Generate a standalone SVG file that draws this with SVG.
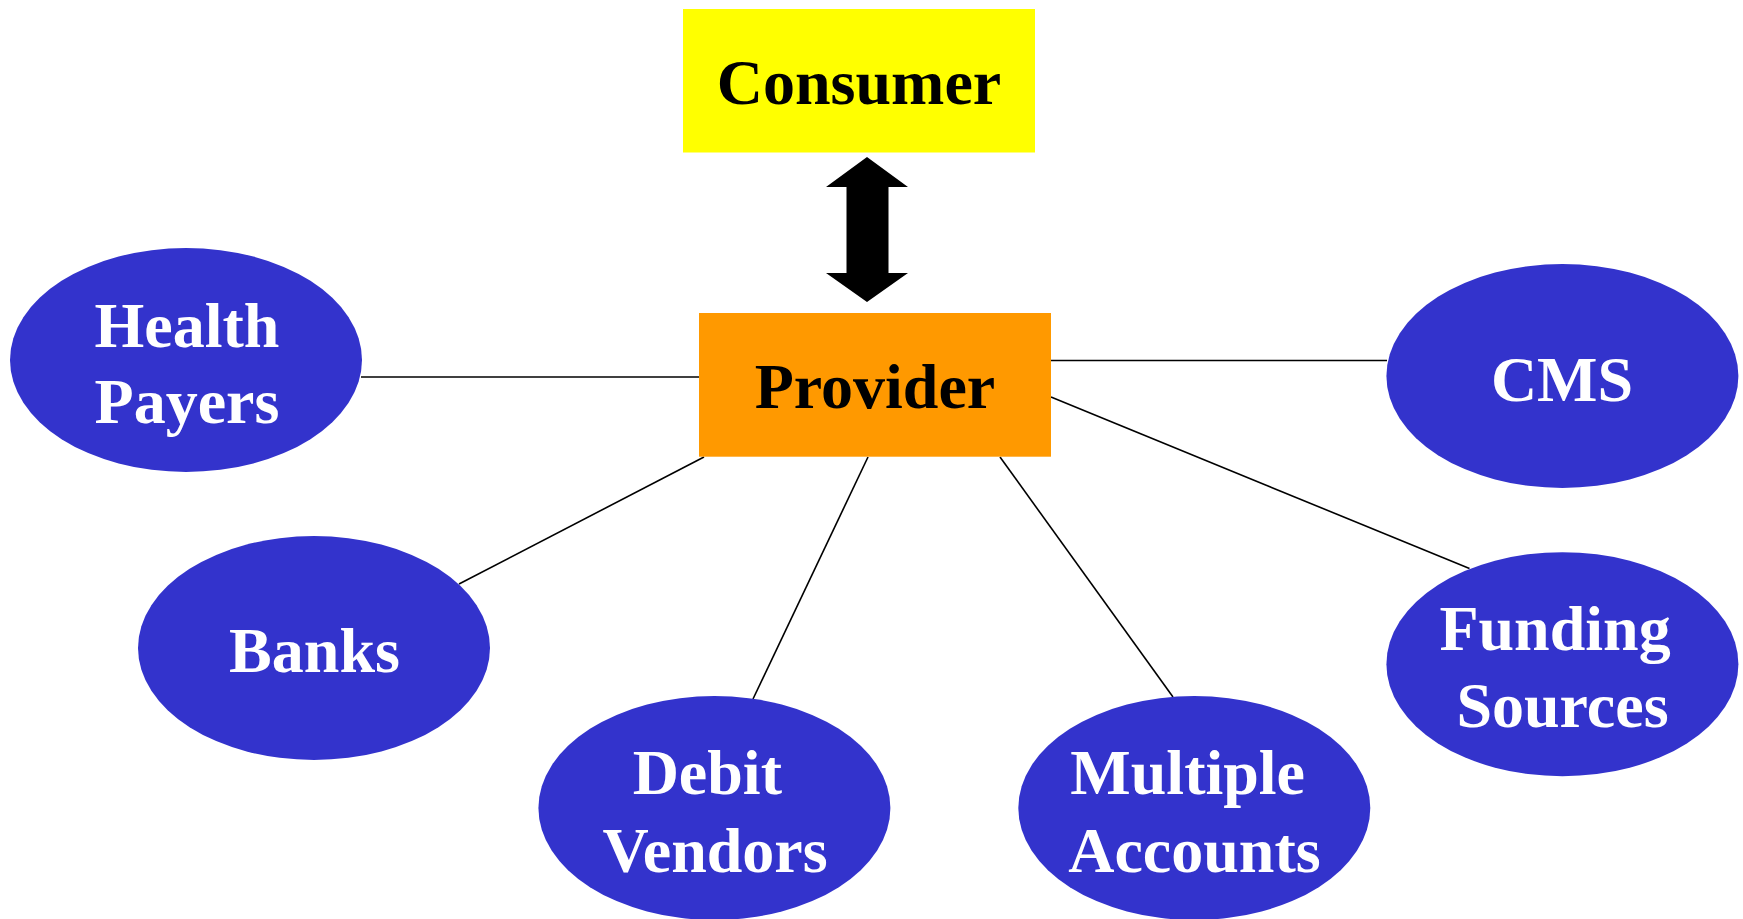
<svg xmlns="http://www.w3.org/2000/svg" width="1743" height="919" viewBox="0 0 1743 919">
<style>
.c{stroke:#000;stroke-width:1.6;fill:none}
.e{fill:#3333CC}
.t{font-family:"Liberation Serif","Times New Roman",serif;font-weight:bold;font-size:64px;text-anchor:middle}
.w{fill:#fff}
.k{fill:#000}
</style>
<rect width="1743" height="919" fill="#fff"/>
<g id="connectors">
<line class="c" x1="361" y1="377" x2="699" y2="377"/>
<line class="c" x1="459" y1="584" x2="704" y2="457"/>
<line class="c" x1="753" y1="699" x2="868" y2="457"/>
<line class="c" x1="1173" y1="697" x2="1000" y2="457"/>
<line class="c" x1="1469.5" y1="568.6" x2="1051" y2="397"/>
<line class="c" x1="1051" y1="360.5" x2="1387" y2="360.5"/>
<polygon fill="#000" points="867,157 908,187 888.5,187 888.5,273 908,273 867,302 826,273 846.5,273 846.5,187 826,187"/>
</g>
<g id="consumer">
<rect x="683" y="9" width="352" height="143.5" fill="#FFFF00"/>
<text class="t k" x="859" y="104">Consumer</text>
</g>
<g id="provider">
<rect x="699" y="313" width="352" height="143.7" fill="#FF9900"/>
<text class="t k" x="875" y="408">Provider</text>
</g>
<g id="health-payers">
<ellipse class="e" cx="186" cy="360" rx="176" ry="112"/>
<text class="t w" x="187" y="347">Health</text>
<text class="t w" x="187" y="422.5">Payers</text>
</g>
<g id="banks">
<ellipse class="e" cx="314" cy="648" rx="176" ry="112"/>
<text class="t w" x="314.5" y="672">Banks</text>
</g>
<g id="debit-vendors">
<ellipse class="e" cx="714.4" cy="808" rx="176" ry="112"/>
<text class="t w" x="707.3" y="794">Debit</text>
<text class="t w" x="715" y="871.7">Vendors</text>
</g>
<g id="multiple-accounts">
<ellipse class="e" cx="1194.3" cy="808" rx="176" ry="112"/>
<text class="t w" x="1187.7" y="794">Multiple</text>
<text class="t w" x="1194.4" y="871.7">Accounts</text>
</g>
<g id="funding-sources">
<ellipse class="e" cx="1562.4" cy="664.2" rx="176" ry="112"/>
<text class="t w" x="1555" y="649.5">Funding</text>
<text class="t w" x="1562.5" y="727">Sources</text>
</g>
<g id="cms">
<ellipse class="e" cx="1562.4" cy="376" rx="176" ry="112"/>
<text class="t w" x="1562" y="400.5">CMS</text>
</g>
</svg>
